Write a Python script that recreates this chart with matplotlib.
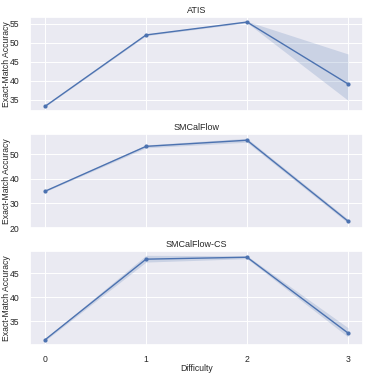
"""Exact-match accuracy vs. difficulty for three datasets (seaborn darkgrid look)."""

import matplotlib

matplotlib.use("Agg")
import matplotlib.pyplot as plt
import seaborn as sns

difficulty = [0, 1, 2, 3]

atis_mean = [33.2, 52.0, 55.4, 39.1]
atis_low = [33.1, 51.8, 55.2, 34.8]
atis_high = [33.3, 52.2, 55.6, 47.0]

smcal_mean = [35.0, 53.3, 55.8, 22.8]
smcal_low = [34.8, 52.7, 55.0, 22.0]
smcal_high = [35.2, 53.9, 56.6, 23.6]

smcalcs_mean = [31.2, 47.9, 48.3, 32.6]
smcalcs_low = [31.0, 47.3, 48.0, 31.8]
smcalcs_high = [31.4, 48.7, 48.6, 33.7]

titles = ["ATIS", "SMCalFlow", "SMCalFlow-CS"]
yticks = [[35, 40, 45, 50, 55], [20, 30, 40, 50], [35, 40, 45]]

sns.set_theme(style="darkgrid")
plt.rcParams["font.family"] = ["Liberation Sans", "DejaVu Sans"]

_COLOR = "#4C72B0"

fig, axes = plt.subplots(3, 1, sharex=True, figsize=(3.74, 3.74), dpi=100)
fig.subplots_adjust(left=0.08, right=0.971, top=0.9545, bottom=0.0775, hspace=0.245)

series = [
    (atis_mean, atis_low, atis_high),
    (smcal_mean, smcal_low, smcal_high),
    (smcalcs_mean, smcalcs_low, smcalcs_high),
]
for ax, (mean, low, high), title, ticks in zip(axes, series, titles, yticks):
    ax.fill_between(difficulty, low, high, color=_COLOR, alpha=0.2, linewidth=0)
    ax.plot(difficulty, mean, color=_COLOR, linewidth=1.0, marker="o", markersize=2.0)
    ax.set_title(title, fontsize=6.5, pad=3)
    ax.set_ylabel("Exact-Match Accuracy", fontsize=6.2, labelpad=1)
    ax.yaxis.set_label_coords(-0.058, 0.5)
    ax.set_yticks(ticks)
    ax.tick_params(labelsize=6.2, pad=1.5)
    ax.grid(linewidth=0.7)

axes[-1].set_xticks(difficulty)
axes[-1].set_xlabel("Difficulty", fontsize=6.2, labelpad=0)

fig.savefig("out.png", dpi=100)
